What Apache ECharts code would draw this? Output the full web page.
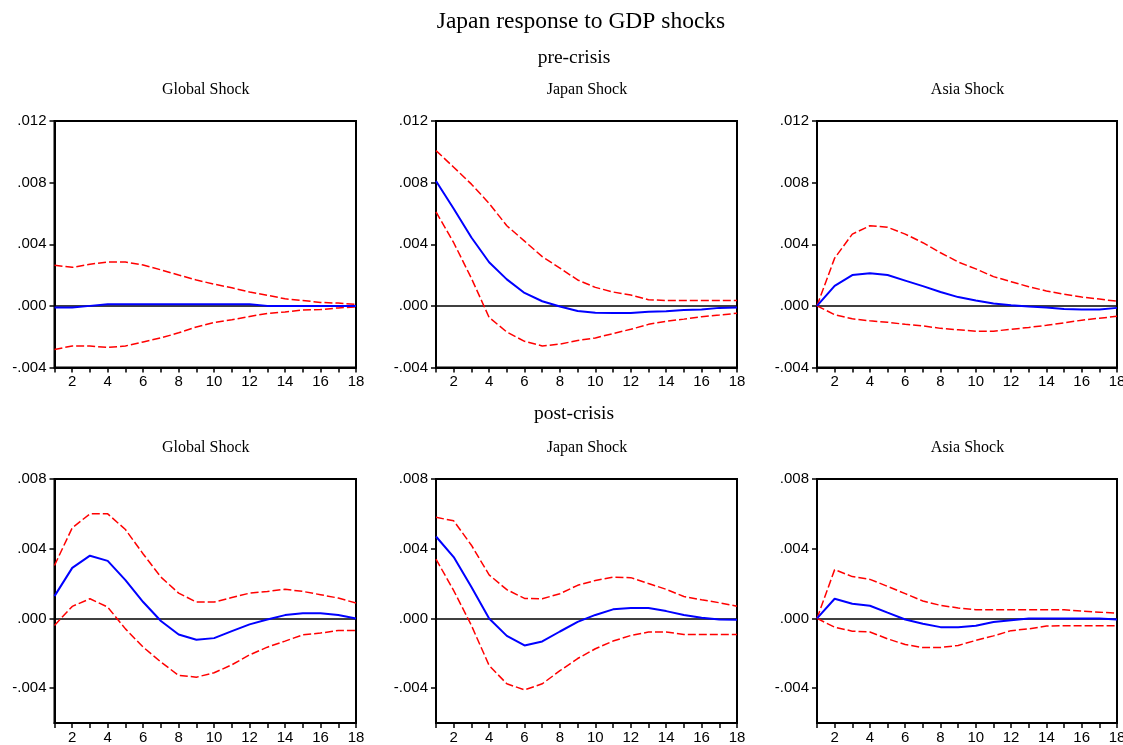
<!DOCTYPE html>
<html>
<head>
<meta charset="utf-8">
<script src="https://cdn.jsdelivr.net/npm/echarts@6/dist/echarts.min.js"></script>
<style>
html,body{margin:0;padding:0;background:#fff;}
#chart{width:1123px;height:745px;}
</style>
</head>
<body>
<div id="chart"></div>
<script>
// Horizons (periods)
const periods = ['1','2','3','4','5','6','7','8','9','10','11','12','13','14','15','16','17','18'];

// Panel titles
const mainTitle = 'Japan response to GDP shocks';
const rowTitles = ['pre-crisis', 'post-crisis'];
const shockNames = ['Global Shock', 'Japan Shock', 'Asia Shock'];

// Y-axis tick values
const preTicks = [-0.004, 0, 0.004, 0.008, 0.012];
const postTicks = [-0.004, 0, 0.004, 0.008];

// ---- pre-crisis ----
const preGlobalResp  = [-0.0001,-0.0001,0,0.0001,0.0001,0.0001,0.0001,0.0001,0.0001,0.0001,0.0001,0.0001,0,0,0,0,0,0];
const preGlobalUpper = [0.00263,0.0025,0.0027,0.00285,0.00285,0.00265,0.00234,0.002,0.00168,0.00141,0.00117,0.0009,0.00069,0.00046,0.00035,0.00022,0.00018,0.0001];
const preGlobalLower = [-0.00283,-0.0026,-0.0026,-0.0027,-0.0026,-0.00234,-0.00208,-0.00175,-0.00137,-0.00108,-0.0009,-0.00069,-0.00049,-0.0004,-0.00027,-0.00024,-0.00013,-0.00007];

const preJapanResp  = [0.0081,0.0063,0.00444,0.00283,0.00172,0.00084,0.0003,-0.00004,-0.00033,-0.00044,-0.00046,-0.00046,-0.00038,-0.00035,-0.00027,-0.00024,-0.00013,-0.0001];
const preJapanUpper = [0.01008,0.009,0.0079,0.00665,0.0052,0.0042,0.0032,0.00245,0.00168,0.0012,0.0009,0.0007,0.0004,0.00035,0.00035,0.00035,0.00035,0.00035];
const preJapanLower = [0.0061,0.0041,0.00179,-0.00075,-0.0017,-0.0023,-0.0026,-0.00248,-0.00225,-0.00208,-0.0018,-0.00152,-0.0012,-0.001,-0.00086,-0.0007,-0.0006,-0.00048];

const preAsiaResp  = [0,0.0013,0.002,0.00212,0.002,0.00164,0.00128,0.0009,0.00057,0.00035,0.00015,0.00004,-0.00004,-0.0001,-0.0002,-0.00024,-0.00024,-0.00013];
const preAsiaUpper = [0,0.0031,0.00466,0.0052,0.0051,0.00466,0.0041,0.00345,0.00285,0.0024,0.0019,0.00157,0.00124,0.00097,0.00075,0.00057,0.00044,0.0003];
const preAsiaLower = [0,-0.00057,-0.00084,-0.00097,-0.00106,-0.0012,-0.0013,-0.00146,-0.00155,-0.00164,-0.00164,-0.00152,-0.0014,-0.00126,-0.0011,-0.00093,-0.0008,-0.00068];

// ---- post-crisis ----
const postGlobalResp  = [0.00128,0.0029,0.0036,0.0033,0.0022,0.00094,-0.00015,-0.00092,-0.00122,-0.00113,-0.00073,-0.00034,-0.00006,0.00019,0.0003,0.0003,0.0002,0];
const postGlobalUpper = [0.00304,0.0052,0.006,0.006,0.0051,0.0037,0.00237,0.00145,0.00094,0.00094,0.0012,0.00145,0.00155,0.00167,0.00155,0.00136,0.00117,0.00088];
const postGlobalLower = [-0.0004,0.00069,0.00113,0.00065,-0.0006,-0.00165,-0.0025,-0.00327,-0.00337,-0.00312,-0.00266,-0.00209,-0.00165,-0.0013,-0.00094,-0.00084,-0.00069,-0.00069];

const postJapanResp  = [0.0047,0.00352,0.0018,0,-0.001,-0.00155,-0.00132,-0.00075,-0.0002,0.0002,0.00052,0.0006,0.0006,0.00042,0.0002,0.00004,-0.00006,-0.00008];
const postJapanUpper = [0.0058,0.0056,0.0042,0.0025,0.00165,0.00115,0.00113,0.00142,0.0019,0.00218,0.00237,0.00234,0.002,0.00167,0.00126,0.00107,0.0009,0.0007];
const postJapanLower = [0.0034,0.0016,-0.0004,-0.0027,-0.00375,-0.0041,-0.00375,-0.003,-0.0023,-0.00174,-0.0013,-0.00098,-0.00078,-0.00078,-0.00092,-0.00092,-0.00092,-0.00092];

const postAsiaResp  = [0,0.00113,0.00084,0.00073,0.00033,-0.00006,-0.0003,-0.0005,-0.0005,-0.00042,-0.0002,-0.0001,0,0,0,0,0,-0.00006];
const postAsiaUpper = [0,0.0028,0.0024,0.00224,0.00184,0.00142,0.001,0.00075,0.0006,0.0005,0.0005,0.0005,0.0005,0.0005,0.0005,0.00042,0.00036,0.0003];
const postAsiaLower = [0,-0.0005,-0.00073,-0.00078,-0.00117,-0.0015,-0.00167,-0.00167,-0.00155,-0.00126,-0.001,-0.0007,-0.0006,-0.00044,-0.00042,-0.00042,-0.00042,-0.00042];

const panels = [
  {name: shockNames[0], resp: preGlobalResp, up: preGlobalUpper, lo: preGlobalLower, row: 0},
  {name: shockNames[1], resp: preJapanResp, up: preJapanUpper, lo: preJapanLower, row: 0},
  {name: shockNames[2], resp: preAsiaResp, up: preAsiaUpper, lo: preAsiaLower, row: 0},
  {name: shockNames[0], resp: postGlobalResp, up: postGlobalUpper, lo: postGlobalLower, row: 1},
  {name: shockNames[1], resp: postJapanResp, up: postJapanUpper, lo: postJapanLower, row: 1},
  {name: shockNames[2], resp: postAsiaResp, up: postAsiaUpper, lo: postAsiaLower, row: 1}
];

// layout
const colLeft = [54.5, 436, 817];
const colWidth = [301.5, 301, 300];
const rowTop = [121, 479];
const rowHeight = [246.5, 244];
const rowRange = [{min: -0.004, max: 0.012, ticks: preTicks}, {min: -0.006, max: 0.008, ticks: postTicks}];

function fmt(v) {
  const a = Math.abs(v);
  if (a < 1e-9) return '.000';
  const s = a.toFixed(3).replace(/^0/, '');
  return (v < 0 ? '-' : '') + s;
}

const grids = [], xAxes = [], yAxes = [], series = [], graphics = [];
const serif = '"Liberation Serif", "Times New Roman", serif';
const sans = '"Liberation Sans", Arial, sans-serif';

graphics.push({type:'text', x: 581, y: 22, style:{text: mainTitle, font: '23.5px ' + serif, fill:'#000', textAlign:'center', textVerticalAlign:'middle'}});
graphics.push({type:'text', x: 574, y: 58, style:{text: rowTitles[0], font: '19.5px ' + serif, fill:'#000', textAlign:'center', textVerticalAlign:'middle'}});
graphics.push({type:'text', x: 574, y: 414, style:{text: rowTitles[1], font: '19.5px ' + serif, fill:'#000', textAlign:'center', textVerticalAlign:'middle'}});

panels.forEach((p, i) => {
  const col = i % 3, row = p.row;
  const rr = rowRange[row];
  grids.push({
    left: colLeft[col], top: rowTop[row], width: colWidth[col], height: rowHeight[row],
    show: true, borderColor: '#000', borderWidth: 2, backgroundColor: '#fff',
    containLabel: false, outerBoundsMode: 'none'
  });
  graphics.push({type:'text', x: colLeft[col] + colWidth[col]/2 + 0.5, y: row === 0 ? 90 : 448,
    style:{text: p.name, font: '16px ' + serif, fill:'#000', textAlign:'center', textVerticalAlign:'middle'}});
  xAxes.push({
    type: 'category', gridIndex: i, data: periods, boundaryGap: false,
    axisLine: {show: true, onZero: false, lineStyle: {color: '#000', width: 2}},
    axisTick: {show: true, interval: 0, length: 5, lineStyle: {color: '#000', width: 1.5}},
    axisLabel: {interval: (idx) => idx % 2 === 1, color: '#000', fontFamily: sans, fontSize: 15, margin: 7, showMaxLabel: true, hideOverlap: false},
    splitLine: {show: false}
  });
  yAxes.push({
    type: 'value', gridIndex: i, min: rr.min, max: rr.max,
    axisLine: {show: true, onZero: false, lineStyle: {color: '#000', width: 2}},
    axisTick: {show: true, length: 5, customValues: rr.ticks, lineStyle: {color: '#000', width: 1.5}},
    axisLabel: {customValues: rr.ticks, formatter: fmt, color: '#000', fontFamily: sans, fontSize: 15, margin: 8},
    splitLine: {show: false}
  });
  const dash = {color: '#ff0000', width: 1.5, type: [8, 3]};
  series.push({
    type: 'line', xAxisIndex: i, yAxisIndex: i, data: p.up, symbol: 'none', lineStyle: dash, silent: true, z: 3
  });
  series.push({
    type: 'line', xAxisIndex: i, yAxisIndex: i, data: p.lo, symbol: 'none', lineStyle: dash, silent: true, z: 3
  });
  series.push({
    type: 'line', xAxisIndex: i, yAxisIndex: i, data: p.resp, symbol: 'none', silent: true, z: 4,
    lineStyle: {color: '#0000ff', width: 2},
    markLine: {silent: true, symbol: 'none', label: {show: false}, animation: false,
      lineStyle: {color: '#000', width: 1.5, type: 'solid'}, data: [{yAxis: 0}], z: 2}
  });
});

const chart = echarts.init(document.getElementById('chart'), null, {renderer: 'canvas'});
chart.setOption({
  animation: false,
  backgroundColor: '#fff',
  grid: grids, xAxis: xAxes, yAxis: yAxes, series: series,
  graphic: graphics
});
</script>
</body>
</html>
